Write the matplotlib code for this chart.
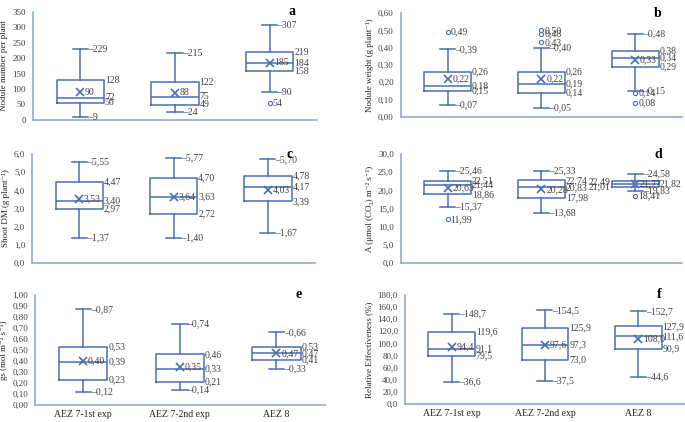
import matplotlib
matplotlib.use("Agg")
import matplotlib.pyplot as plt

plt.rcParams["font.family"] = ["Liberation Serif", "DejaVu Serif"]

LINE = "#4a6db0"
SPINE = "#8eaadb"
TXT = "#404040"

groups = ["AEZ 7-1st exp", "AEZ 7-2nd exp", "AEZ 8"]

# five-number summaries per group: (whislo, q1, med, q3, whishi), plus mean and outliers
nod_num = [(9, 56, 72, 128, 229), (24, 49, 75, 122, 215), (90, 158, 184, 219, 307)]
nod_num_mean = [90, 88, 185]
nod_num_out = [[], [], [54]]

nod_wt = [(0.07, 0.15, 0.18, 0.26, 0.39), (0.05, 0.14, 0.19, 0.26, 0.40), (0.15, 0.29, 0.34, 0.38, 0.48)]
nod_wt_mean = [0.22, 0.22, 0.33]
nod_wt_out = [[0.49], [0.43, 0.48, 0.50], [0.14, 0.08]]

shoot = [(1.37, 2.97, 3.40, 4.47, 5.55), (1.40, 2.72, 3.63, 4.70, 5.77), (1.67, 3.39, 4.17, 4.78, 5.70)]
shoot_mean = [3.53, 3.64, 4.03]
shoot_out = [[], [], []]

photo = [(15.37, 18.86, 21.44, 22.51, 25.46), (13.68, 17.98, 20.83, 22.74, 25.33), (19.83, 21.01, 21.82, 22.49, 24.58)]
photo_mean = [20.63, 20.28, 21.77]
photo_out = [[11.99], [], [18.41]]

gs = [(0.12, 0.23, 0.39, 0.53, 0.87), (0.14, 0.21, 0.33, 0.46, 0.74), (0.33, 0.41, 0.47, 0.53, 0.66)]
gs_mean = [0.40, 0.35, 0.47]
gs_out = [[], [], []]

rel_eff = [(36.6, 79.5, 91.1, 119.6, 148.7), (37.5, 73.0, 97.3, 125.9, 154.5), (44.6, 90.9, 111.6, 127.9, 152.7)]
rel_eff_mean = [94.4, 97.6, 108.0]
rel_eff_out = [[], [], []]


def fmt(v, nd):
    return f"{v:.{nd}f}".replace(".", ",")


def panel(fig, rect, summ, means, outs, ylim, ystep, ynd, lnd, ylabel, letter,
          xlabels=False, left_labels=None):
    ax = fig.add_axes(rect)
    stats = []
    for (lo, q1, med, q3, hi), m, fl in zip(summ, means, outs):
        stats.append(dict(whislo=lo, q1=q1, med=med, q3=q3, whishi=hi, mean=m, fliers=fl))
    pos = [1, 2, 3]
    ax.bxp(stats, positions=pos, widths=0.5, capwidths=0.16, showmeans=True,
           boxprops=dict(color=LINE, lw=1.1), medianprops=dict(color=LINE, lw=1.1),
           whiskerprops=dict(color=LINE, lw=1.1), capprops=dict(color=LINE, lw=1.1),
           meanprops=dict(marker="x", markeredgecolor=LINE, markersize=6, mew=1.2),
           flierprops=dict(marker="o", markerfacecolor="none", markeredgecolor=LINE,
                           markersize=3, mew=0.8))
    left_labels = left_labels or {}
    for i, ((lo, q1, med, q3, hi), m, fl) in enumerate(zip(summ, means, outs)):
        p = pos[i]
        kw = dict(fontsize=7, color=TXT, va="center")
        for v in (lo, hi):
            ax.text(p + 0.08, v, "\u2013" + fmt(v, lnd), ha="left", **kw)
        for v in (q1, med, q3):
            if v in left_labels.get(i, []):
                ax.text(p - 0.26, v, fmt(v, lnd), ha="right", **kw)
            else:
                ax.text(p + 0.26, v, fmt(v, lnd), ha="left", **kw)
        ax.text(p + 0.05, m, fmt(m, lnd), ha="left", **kw)
        for v in fl:
            ax.text(p + 0.03, v, fmt(v, lnd), ha="left", **kw)
    ax.set_xlim(0.5, 3.5)
    ax.set_ylim(*ylim)
    n = int(round((ylim[1] - ylim[0]) / ystep))
    ticks = [ylim[0] + k * ystep for k in range(n + 1)]
    ax.set_yticks(ticks)
    ax.set_yticklabels([fmt(t, ynd) for t in ticks], fontsize=6.5, color=TXT)
    ax.tick_params(axis="y", length=0, pad=5)
    ax.tick_params(axis="x", length=0)
    if xlabels:
        ax.set_xticks(pos)
        ax.set_xticklabels(groups, fontsize=7, color="#222222")
    else:
        ax.set_xticks([])
    for s in ("top", "right"):
        ax.spines[s].set_visible(False)
    for s in ("left", "bottom"):
        ax.spines[s].set_color(SPINE)
        ax.spines[s].set_linewidth(1.2)
    ax.set_ylabel(ylabel, fontsize=6.5, color="#222222", labelpad=3)
    ax.text(0.9, 1.0, letter, transform=ax.transAxes, fontsize=10, fontweight="bold",
            ha="left", va="center")
    return ax


fig = plt.figure(figsize=(6.85, 4.22), dpi=100)

panel(fig, [0.048, 0.716, 0.415, 0.256], nod_num, nod_num_mean, nod_num_out,
      (0, 350), 50, 0, 0, "Nodule number per plant", "a")
panel(fig, [0.585, 0.723, 0.411, 0.246], nod_wt, nod_wt_mean, nod_wt_out,
      (0, 0.6), 0.1, 2, 2, "Nodule weight (g plant\u207b\u00b9)", "b")
panel(fig, [0.047, 0.377, 0.413, 0.258], shoot, shoot_mean, shoot_out,
      (0, 6), 1, 1, 2, "Shoot DM (g plant\u207b\u00b9)", "c")
panel(fig, [0.585, 0.377, 0.411, 0.258], photo, photo_mean, photo_out,
      (0, 30), 5, 1, 2, "A (\u03bcmol (CO\u2082) m\u207b\u00b2 s\u207b\u00b9)", "d",
      left_labels={2: [21.01, 22.49]})
panel(fig, [0.051, 0.040, 0.423, 0.261], gs, gs_mean, gs_out,
      (0, 1.0), 0.1, 2, 2, "gs (mol m\u207b\u00b2 s\u207b\u00b9)", "e", xlabels=True)
panel(fig, [0.591, 0.043, 0.409, 0.258], rel_eff, rel_eff_mean, rel_eff_out,
      (0, 180), 20, 1, 1, "Relative Effectiveness (%)", "f", xlabels=True)

fig.savefig("out.png", dpi=100)
